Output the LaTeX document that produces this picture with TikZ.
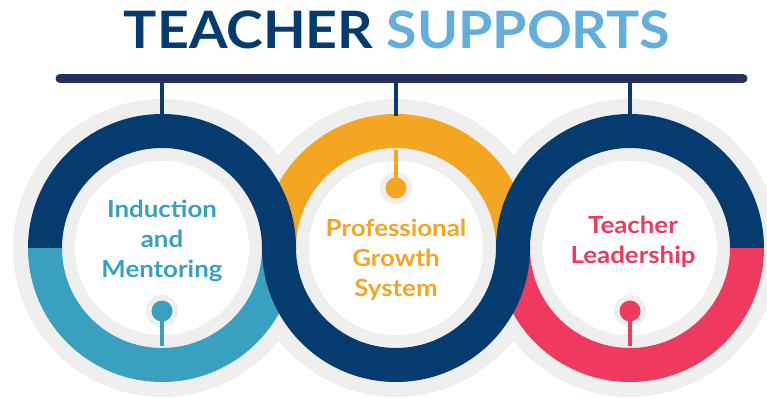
\documentclass[tikz,border=0pt]{standalone}
\usepackage{fontspec}
\setmainfont{Lato}
\usetikzlibrary{calc}
\definecolor{ringnavy}{HTML}{053B6F}
\definecolor{barnavy}{HTML}{24305E}
\definecolor{ringteal}{HTML}{3AA0C0}
\definecolor{ringyellow}{HTML}{F4A623}
\definecolor{ringpink}{HTML}{EE3A5E}
\definecolor{halogray}{HTML}{EFEFEF}
\definecolor{titleblue}{HTML}{62AEDF}
\newcommand\myhalfring[3]{%
  \fill[#1] ($(#2)+(#3:134pt)$) arc[start angle=#3, delta angle=180, radius=134pt]
    -- ($(#2)+(#3+180:100pt)$) arc[start angle=#3+180, delta angle=-180, radius=100pt] -- cycle;}
\newcommand\widetext[1]{\scalebox{1.1}[1]{#1}}
\tikzset{
  titletext/.style={font=\bfseries\fontsize{51.6}{60}\selectfont, inner sep=0pt, anchor=base},
  labeltext/.style={font=\bfseries\fontsize{23.5}{28}\selectfont, inner sep=0pt, anchor=base},
  stemline/.style={line width=4.5pt},
}
\begin{document}
\begin{tikzpicture}[x=1pt,y=1pt]
\useasboundingbox (0,0) rectangle (767,398);
\fill[white] (0,0) rectangle (767,398);
\clip (0,0) rectangle (767,398);
\coordinate (L) at (162,150);
\coordinate (M) at (396,150);
\coordinate (R) at (630,150);
% halos
\foreach \c in {L,M,R} {\fill[halogray] (\c) circle[radius=149pt];}
\foreach \c in {L,M,R} {\fill[white] (\c) circle[radius=87pt];}
% lower layer
\myhalfring{ringyellow}{M}{0}
\myhalfring{ringteal}{L}{180}
\myhalfring{ringpink}{R}{180}
% upper layer
\myhalfring{ringnavy}{L}{0}
\myhalfring{ringnavy}{M}{180}
\myhalfring{ringnavy}{R}{0}
% dots
\coordinate (Ld) at (162,87);
\coordinate (Md) at (396,210);
\coordinate (Rd) at (630,87);
\coordinate (Lin) at (162,52);
\coordinate (Min) at (396,248);
\coordinate (Rin) at (630,52);
\foreach \d in {Ld,Md,Rd} {\fill[halogray] (\d) circle[radius=16pt];}
\draw[stemline, ringteal] (Lin) -- (Ld);
\fill[ringteal] (Ld) circle[radius=10.5pt];
\draw[stemline, ringyellow] (Min) -- (Md);
\fill[ringyellow] (Md) circle[radius=10.5pt];
\draw[stemline, ringpink] (Rin) -- (Rd);
\fill[ringpink] (Rd) circle[radius=10.5pt];
% bar and top stems
\coordinate (Lt) at (162,282);
\coordinate (Mt) at (396,282);
\coordinate (Rt) at (630,282);
\coordinate (Lb) at (162,319.5);
\coordinate (Mb) at (396,319.5);
\coordinate (Rb) at (630,319.5);
\draw[stemline, ringnavy] (Lb) -- (Lt);
\draw[stemline, ringnavy] (Mb) -- (Mt);
\draw[stemline, ringnavy] (Rb) -- (Rt);
\coordinate (barL) at (60,319.5);
\coordinate (barR) at (743,319.5);
\draw[barnavy, line width=9pt, line cap=round] (barL) -- (barR);
% title
\node[titletext] (title) at (397,349) {\scalebox{1.075}[1]{\textcolor{ringnavy}{TEACHER} \textcolor{titleblue}{SUPPORTS}}};
% labels
\node[labeltext, text=ringteal] (l1) at (162,180) {\widetext{Induction}};
\node[labeltext, text=ringteal] (l2) at (162,150) {\widetext{and}};
\node[labeltext, text=ringteal] (l3) at (162,120) {\widetext{Mentoring}};
\node[labeltext, text=ringyellow] (m1) at (396,161) {\widetext{Professional}};
\node[labeltext, text=ringyellow] (m2) at (396,131) {\widetext{Growth}};
\node[labeltext, text=ringyellow] (m3) at (396,101) {\widetext{System}};
\node[labeltext, text=ringpink] (r1) at (633,164) {\widetext{Teacher}};
\node[labeltext, text=ringpink] (r2) at (633,134) {\widetext{Leadership}};
\end{tikzpicture}
\end{document}
